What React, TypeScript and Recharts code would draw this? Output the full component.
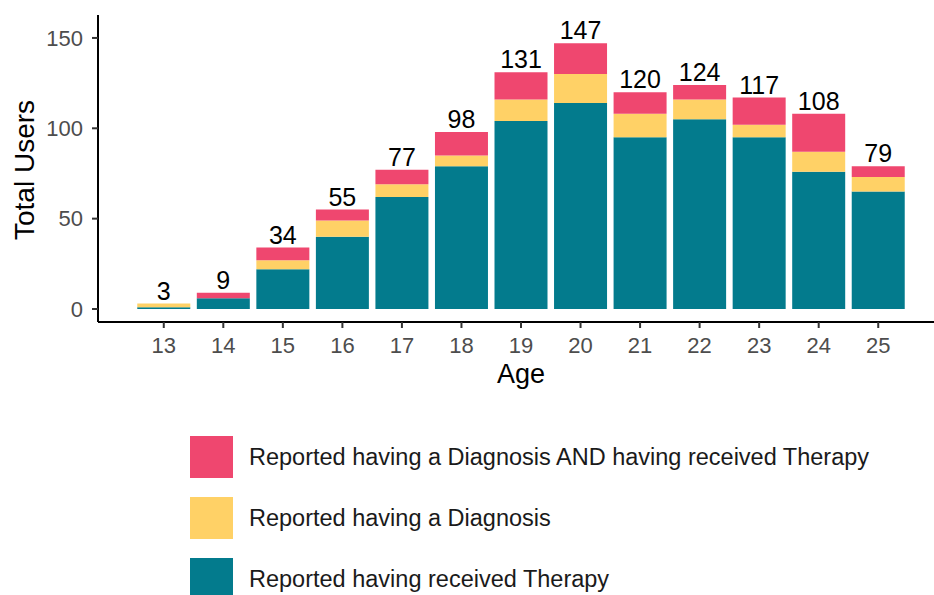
import { Bar, BarChart, LabelList, Legend, XAxis, YAxis } from "recharts";

const ages = ["13", "14", "15", "16", "17", "18", "19", "20", "21", "22", "23", "24", "25"];
const therapy = [1, 6, 22, 40, 62, 79, 104, 114, 95, 105, 95, 76, 65];
const diagnosis = [2, 0, 5, 9, 7, 6, 12, 16, 13, 11, 7, 11, 8];
const both = [0, 3, 7, 6, 8, 13, 15, 17, 12, 8, 15, 21, 6];
const yTicks = [0, 50, 100, 150];

const SERIES = [
  { key: "both", label: "Reported having a Diagnosis AND having received Therapy", color: "#EF476F" },
  { key: "diagnosis", label: "Reported having a Diagnosis", color: "#FFD166" },
  { key: "therapy", label: "Reported having received Therapy", color: "#037B8D" },
];

const data = ages.map((age, i) => ({
  age,
  therapy: therapy[i],
  diagnosis: diagnosis[i],
  both: both[i],
  total: therapy[i] + diagnosis[i] + both[i],
}));

const FONT = "'Liberation Sans', Arial, sans-serif";

function LegendBox() {
  return (
    <div style={{ fontFamily: FONT }}>
      {SERIES.map((s) => (
        <div key={s.key} style={{ display: "flex", alignItems: "center", height: 42, marginBottom: 19 }}>
          <span style={{ width: 43, height: 42, background: s.color, display: "inline-block" }} />
          <span style={{ marginLeft: 16, fontSize: 23.5, color: "#1a1a1a" }}>{s.label}</span>
        </div>
      ))}
    </div>
  );
}

export default function App() {
  return (
    <div style={{ position: "absolute", left: 0, top: 0, width: 934, height: 595, overflow: "hidden", background: "#fff" }}>
      <BarChart
        width={944}
        height={595}
        data={data}
        margin={{ top: 15, right: 0, bottom: 213, left: 0 }}
        barCategoryGap="5.5%"
      >
        <XAxis xAxisId="labels" dataKey="age" hide padding={{ left: 36, right: 36 }} />
        <XAxis
          dataKey="age"
          padding={{ left: 36, right: 36 }}
          height={60}
          tickSize={6}
          tickMargin={9}
          axisLine={{ stroke: "#000", strokeWidth: 2 }}
          tickLine={{ stroke: "#333", strokeWidth: 2 }}
          tick={{ fill: "#4D4D4D", fontSize: 22, fontFamily: FONT }}
          label={{
            content: () => (
              <text x={521} y={383} textAnchor="middle" fontSize={27} fontFamily={FONT} fill="#000">
                Age
              </text>
            ),
          }}
        />
        <YAxis
          type="number"
          domain={[-7.2, 162.7]}
          ticks={yTicks}
          allowDataOverflow
          width={98}
          tickSize={6}
          tickMargin={9}
          axisLine={{ stroke: "#000", strokeWidth: 2 }}
          tickLine={{ stroke: "#333", strokeWidth: 2 }}
          tick={{ fill: "#4D4D4D", fontSize: 22, fontFamily: FONT }}
          label={{
            content: () => (
              <text
                transform="translate(24,170) rotate(-90)"
                textAnchor="middle"
                dy="0.36em"
                fontSize={28}
                fontFamily={FONT}
                fill="#000"
              >
                Total Users
              </text>
            ),
          }}
        />
        <Legend
          layout="vertical"
          align="center"
          verticalAlign="middle"
          wrapperStyle={{ left: 190, top: 436, width: "auto" }}
          content={() => <LegendBox />}
        />
        <Bar xAxisId="labels" dataKey="total" fill="none" isAnimationActive={false} legendType="none">
          <LabelList dataKey="total" position="top" offset={4} fill="#000" fontSize={25} fontFamily={FONT} />
        </Bar>
        <Bar dataKey="therapy" stackId="a" fill="#037B8D" isAnimationActive={false} />
        <Bar dataKey="diagnosis" stackId="a" fill="#FFD166" isAnimationActive={false} />
        <Bar dataKey="both" stackId="a" fill="#EF476F" isAnimationActive={false} />
      </BarChart>
    </div>
  );
}
